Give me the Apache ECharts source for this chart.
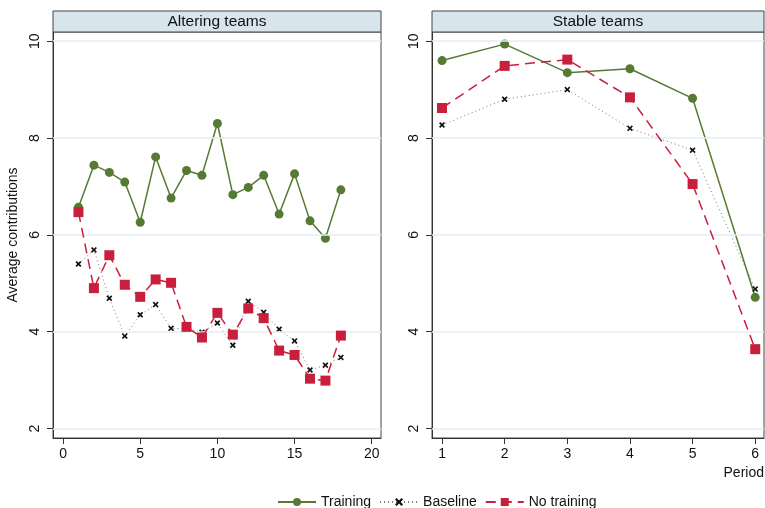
<!DOCTYPE html>
<html><head><meta charset="utf-8">
<script src="https://cdn.jsdelivr.net/npm/echarts@6/dist/echarts.min.js"></script>
<style>html,body{margin:0;padding:0;background:#fff}#c{width:765px;height:508px}</style>
</head><body><div id="c"></div>
<script>
const periodsAlt = [1,2,3,4,5,6,7,8,9,10,11,12,13,14,15,16,17,18];
const periodsStable = [1,2,3,4,5,6];
const trainingAlt = [6.57,7.44,7.29,7.09,6.26,7.61,6.76,7.33,7.23,8.30,6.83,6.98,7.23,6.43,7.26,6.29,5.93,6.93];
const baselineAlt = [5.40,5.69,4.69,3.91,4.35,4.56,4.07,4.06,3.99,4.18,3.72,4.63,4.40,4.05,3.81,3.21,3.31,3.47];
const noTrainAlt  = [6.47,4.90,5.58,4.97,4.72,5.08,5.01,4.10,3.88,4.39,3.94,4.48,4.28,3.61,3.52,3.03,2.99,3.92];
const trainingStable = [9.60,9.94,9.35,9.43,8.82,4.71];
const baselineStable = [8.27,8.80,9.00,8.20,7.75,4.88];
const noTrainStable  = [8.62,9.49,9.62,8.84,7.05,3.64];
const yTicks = [2,4,6,8,10];
const xTicksAlt = [0,5,10,15,20];
const xTicksStable = [1,2,3,4,5,6];
const seriesNames = ['Training','Baseline','No training'];
const panelTitles = ['Altering teams','Stable teams'];

const GREEN = '#567a33', RED = '#c8203c', FONT = 'Liberation Sans, Arial, sans-serif';
const CROSS = 'path://M0,2L2,0L5,3L8,0L10,2L7,5L10,8L8,10L5,7L2,10L0,8L3,5Z';

function zip(xs, ys){ return xs.map((x,i)=>[x, ys[i]]); }

const grids = [
  {left:53, top:32, width:328, height:406},
  {left:432, top:32, width:332, height:406}
];

function xAxis(idx, min, max, ticks){
  return {type:'value', gridIndex:idx, min:min, max:max,
    axisLine:{show:true, onZero:false, lineStyle:{color:'#333', width:1}},
    axisTick:{show:true, length:6, customValues:ticks, lineStyle:{color:'#333'}},
    axisLabel:{customValues:ticks, margin:9, color:'#111', fontSize:14, fontFamily:FONT},
    splitLine:{show:false}};
}
function yAxis(idx, name){
  return {type:'value', gridIndex:idx, min:1.805, max:10.19,
    name:name, nameLocation:'middle', nameGap:33, nameRotate:90,
    nameTextStyle:{color:'#111', fontSize:14, fontFamily:FONT},
    axisLine:{show:true, onZero:false, lineStyle:{color:'#333', width:1}},
    axisTick:{show:true, length:6, customValues:yTicks, lineStyle:{color:'#333'}},
    axisLabel:{customValues:yTicks, rotate:90, margin:11, color:'#111', fontSize:14, fontFamily:FONT},
    splitLine:{show:false}};
}

function gridLines(idx){
  return {type:'line', xAxisIndex:idx, yAxisIndex:idx, data:[], silent:true, z:0,
    markLine:{silent:true, symbol:'none', label:{show:false},
      lineStyle:{color:'#e5eef0', width:1.5, type:'solid'},
      data: yTicks.map(v=>({yAxis:v}))}};
}
function mkSeries(idx, xs, tr, bl, nt){
  return [
    {name:seriesNames[0], type:'line', xAxisIndex:idx, yAxisIndex:idx, data:zip(xs,tr),
     symbol:'circle', symbolSize:9, itemStyle:{color:GREEN},
     lineStyle:{color:GREEN, width:1.5}, z:3},
    {name:seriesNames[1], type:'line', xAxisIndex:idx, yAxisIndex:idx, data:zip(xs,bl),
     symbol:CROSS, symbolSize:6, itemStyle:{color:'#111'},
     lineStyle:{color:'#777', width:1, type:[1,3]}, z:4},
    {name:seriesNames[2], type:'line', xAxisIndex:idx, yAxisIndex:idx, data:zip(xs,nt),
     symbol:'rect', symbolSize:10, itemStyle:{color:RED},
     lineStyle:{color:RED, width:1.5, type:[10,6]}, z:5}
  ];
}

const chart = echarts.init(document.getElementById('c'), null, {renderer:'canvas'});
chart.setOption({
  backgroundColor:'#fff',
  animation:false,
  textStyle:{fontFamily:FONT},
  grid: grids.map(g=>Object.assign({show:true, borderColor:'#444', borderWidth:1, backgroundColor:'#fff'}, g)),
  xAxis:[xAxis(0,-0.65,20.6,xTicksAlt), xAxis(1,0.84,6.14,xTicksStable)],
  yAxis:[yAxis(0,'Average contributions'), yAxis(1,'')],
  legend:{data:seriesNames, left:272, top:490, itemWidth:38, itemHeight:10, itemGap:8,
    textStyle:{color:'#111', fontSize:14, fontFamily:FONT}},
  graphic:[
    {type:'rect', shape:{x:53, y:11, width:328, height:21}, style:{fill:'#d9e5ec', stroke:'#444', lineWidth:1}, z:10},
    {type:'rect', shape:{x:432, y:11, width:332, height:21}, style:{fill:'#d9e5ec', stroke:'#444', lineWidth:1}, z:10},
    {type:'text', x:217, y:21.5, style:{text:panelTitles[0], fill:'#111', fontSize:15.5, fontFamily:FONT, textAlign:'center', textVerticalAlign:'middle'}, z:11},
    {type:'text', x:598, y:21.5, style:{text:panelTitles[1], fill:'#111', fontSize:15.5, fontFamily:FONT, textAlign:'center', textVerticalAlign:'middle'}, z:11},
    {type:'text', x:764, y:466, style:{text:'Period', fill:'#111', fontSize:14, fontFamily:FONT, textAlign:'right', textVerticalAlign:'top'}, z:11}
  ],
  series:[gridLines(0), gridLines(1)]
    .concat(mkSeries(0, periodsAlt, trainingAlt, baselineAlt, noTrainAlt))
    .concat(mkSeries(1, periodsStable, trainingStable, baselineStable, noTrainStable))
});
</script></body></html>
